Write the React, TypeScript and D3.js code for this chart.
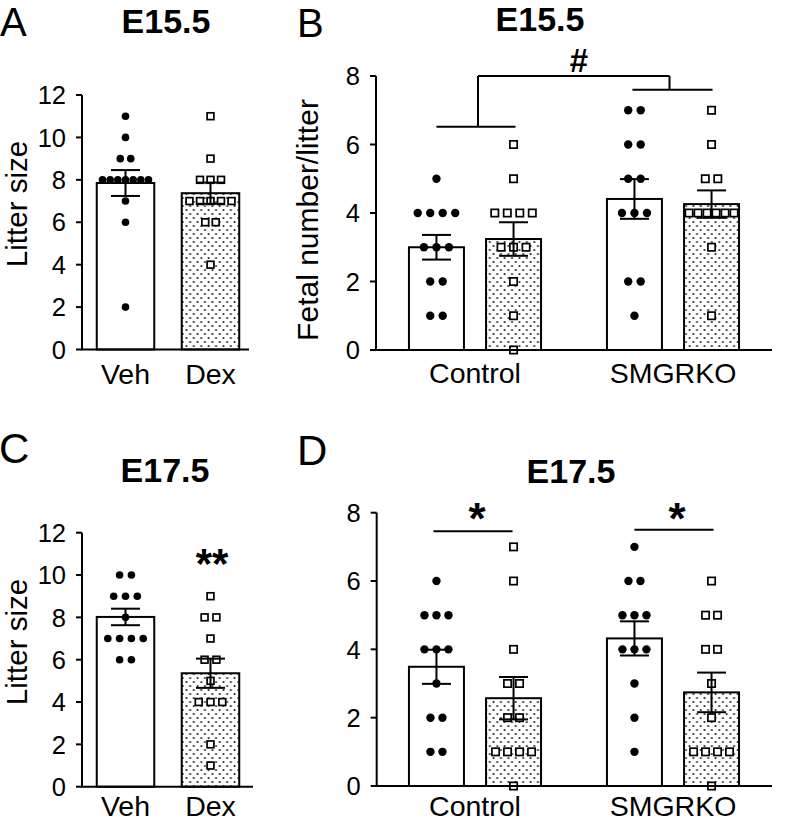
import React from 'react';
import * as d3 from 'd3';

// ---------- categories / ticks ----------
const treatments = ['Veh', 'Dex'];
const genotypes = ['Control', 'SMGRKO'];
const litterTicks = [0, 2, 4, 6, 8, 10, 12];
const fetalTicks = [0, 2, 4, 6, 8];

// ---------- Panel A (E15.5 litter size) ----------
const aVeh = [11, 10, 9, 9, 8, 8, 8, 8, 8, 8, 8, 7, 6, 2];
const aDex = [11, 9, 8, 8, 8, 7, 7, 7, 7, 7, 6, 6, 4];
const aMean = [7.85, 7.37];
const aSem = [0.61, 0.5];

// ---------- Panel B (E15.5 fetal number/litter) ----------
const bControlVeh = [5, 4, 4, 4, 4, 3, 3, 3, 2, 2, 1, 1];
const bControlDex = [6, 5, 4, 4, 4, 4, 3, 3, 3, 2, 1, 0];
const bSmgrkoVeh = [7, 7, 6, 6, 5, 5, 4, 4, 4, 2, 2, 1];
const bSmgrkoDex = [7, 6, 5, 5, 4, 4, 4, 4, 4, 4, 3, 1];
const bMean = [3.0, 3.24, 4.41, 4.26];
const bSem = [0.36, 0.49, 0.58, 0.4];

// ---------- Panel C (E17.5 litter size) ----------
const cVeh = [10, 10, 9, 9, 9, 8, 7, 7, 7, 7, 6, 6];
const cDex = [9, 8, 8, 7, 6, 6, 5, 4, 4, 4, 2, 1];
const cMean = [8.02, 5.36];
const cSem = [0.39, 0.69];

// ---------- Panel D (E17.5 fetal number/litter) ----------
const dControlVeh = [6, 5, 5, 5, 4, 4, 4, 3, 2, 2, 1, 1];
const dControlDex = [7, 6, 4, 3, 3, 2, 2, 1, 1, 1, 1, 0];
const dSmgrkoVeh = [7, 6, 6, 5, 5, 5, 4, 4, 4, 3, 2, 1];
const dSmgrkoDex = [6, 5, 5, 4, 4, 3, 2, 1, 1, 1, 1, 0];
const dMean = [3.49, 2.57, 4.32, 2.74];
const dSem = [0.5, 0.62, 0.5, 0.58];

const FONT = "'Liberation Sans', Arial, Helvetica, sans-serif";

type Bar = { x0: number; w: number; mean: number; sem: number; values: number[]; kind: string };

function layoutPoints(values: number[], cx: number, base: number, maxW: number) {
  const groups = d3.groups(values, (v) => v);
  const out: { x: number; v: number }[] = [];
  groups.forEach(([v, arr]) => {
    const k = arr.length;
    const s = k > 1 ? Math.min(base, maxW / (k - 1)) : 0;
    arr.forEach((_, i) => out.push({ x: cx + (i - (k - 1) / 2) * s, v }));
  });
  return out;
}

function Panel(props: {
  y: d3.ScaleLinear<number, number>;
  ticks: number[];
  axisX: number;
  axisEnd: number;
  bars: Bar[];
  r: number;
  sq: number;
  base: number;
  maxW: number;
  labels: { text: string; x: number }[];
  labelY: number;
}) {
  const { y, ticks, axisX, axisEnd, bars, r, sq, base, maxW, labels, labelY } = props;
  const y0 = y(0);
  const yTop = y(ticks[ticks.length - 1]);
  return (
    <g>
      {bars.map((b, i) => (
        <rect
          key={'b' + i}
          x={b.x0}
          y={y(b.mean)}
          width={b.w}
          height={y0 - y(b.mean)}
          fill={b.kind === 'Dex' ? 'url(#dots)' : '#fff'}
          stroke="#000"
          strokeWidth={2}
        />
      ))}
      {bars.map((b, i) =>
        layoutPoints(b.values, b.x0 + b.w / 2, base, maxW).map((p, j) =>
          b.kind === 'Dex' ? (
            <rect
              key={'p' + i + '-' + j}
              x={p.x - sq / 2}
              y={y(p.v) - sq / 2}
              width={sq}
              height={sq}
              fill="#fff"
              stroke="#000"
              strokeWidth={1.7}
            />
          ) : (
            <circle key={'p' + i + '-' + j} cx={p.x} cy={y(p.v)} r={r} fill="#000" />
          )
        )
      )}
      {bars.map((b, i) => {
        const cx = b.x0 + b.w / 2;
        const hi = y(b.mean + b.sem);
        const lo = y(b.mean - b.sem);
        return (
          <g key={'e' + i} stroke="#000" strokeWidth={2}>
            <line x1={cx} x2={cx} y1={hi} y2={lo} />
            <line x1={cx - 14.5} x2={cx + 14.5} y1={hi} y2={hi} />
            <line x1={cx - 14.5} x2={cx + 14.5} y1={lo} y2={lo} />
          </g>
        );
      })}
      <line x1={axisX} x2={axisX} y1={yTop} y2={y0} stroke="#000" strokeWidth={2} />
      <line x1={axisX - 1} x2={axisEnd} y1={y0} y2={y0} stroke="#000" strokeWidth={2} />
      {ticks.map((t) => (
        <g key={'t' + t}>
          <line x1={axisX - 6} x2={axisX} y1={y(t)} y2={y(t)} stroke="#000" strokeWidth={2} />
          <text x={axisX - 16} y={y(t)} dy="0.36em" textAnchor="end" fontSize={25.5} fontFamily={FONT}>
            {t}
          </text>
        </g>
      ))}
      {labels.map((l) => (
        <text key={l.text} x={l.x} y={labelY} textAnchor="middle" fontSize={28.5} fontFamily={FONT}>
          {l.text}
        </text>
      ))}
    </g>
  );
}

export default function App() {
  // scales for two-bar panels (A, C)
  const xAC = d3.scaleBand().domain(treatments).range([83, 253]).paddingInner(0.3235).paddingOuter(0.16175);
  // scales for grouped panels (B, D)
  const xGroup = d3.scaleBand().domain(genotypes).range([376, 772]).paddingInner(0).paddingOuter(0);
  const xTreat = d3
    .scaleBand()
    .domain(treatments)
    .range([0, xGroup.bandwidth()])
    .paddingInner(0.2866)
    .paddingOuter(0.4275);

  const yA = d3.scaleLinear().domain([0, 12]).range([349.5, 95]);
  const yB = d3.scaleLinear().domain([0, 8]).range([350, 76]);
  const yC = d3.scaleLinear().domain([0, 12]).range([786.7, 532.7]);
  const yD = d3.scaleLinear().domain([0, 8]).range([786, 512.7]);

  const twoBars = (vals: number[][], means: number[], sems: number[]): Bar[] =>
    treatments.map((t, i) => ({
      x0: xAC(t) as number,
      w: xAC.bandwidth(),
      mean: means[i],
      sem: sems[i],
      values: vals[i],
      kind: t,
    }));

  const fourBars = (vals: number[][], means: number[], sems: number[]): Bar[] => {
    const out: Bar[] = [];
    genotypes.forEach((g, gi) =>
      treatments.forEach((t, ti) => {
        const k = gi * 2 + ti;
        out.push({
          x0: (xGroup(g) as number) + (xTreat(t) as number),
          w: xTreat.bandwidth(),
          mean: means[k],
          sem: sems[k],
          values: vals[k],
          kind: t,
        });
      })
    );
    return out;
  };

  const barsA = twoBars([aVeh, aDex], aMean, aSem);
  const barsC = twoBars([cVeh, cDex], cMean, cSem);
  const barsB = fourBars([bControlVeh, bControlDex, bSmgrkoVeh, bSmgrkoDex], bMean, bSem);
  const barsD = fourBars([dControlVeh, dControlDex, dSmgrkoVeh, dSmgrkoDex], dMean, dSem);

  const acLabels = treatments.map((t) => ({ text: t, x: (xAC(t) as number) + xAC.bandwidth() / 2 }));
  const bdLabels = genotypes.map((g) => ({ text: g, x: (xGroup(g) as number) + xGroup.bandwidth() / 2 }));

  const cen = (b: Bar) => b.x0 + b.w / 2;
  const gMid = (g: string) => (xGroup(g) as number) + xGroup.bandwidth() / 2;

  return (
    <svg
      width={793}
      height={823}
      style={{ position: 'absolute', left: 0, top: 0, background: '#fff' }}
      fontFamily={FONT}
    >
      <defs>
        <pattern id="dots" width={7.4} height={8} patternUnits="userSpaceOnUse">
          <rect width={7.4} height={8} fill="#fff" />
          <rect x={0.6} y={1.2} width={1.7} height={1.7} fill="#111" />
          <rect x={4.3} y={5.2} width={1.7} height={1.7} fill="#111" />
        </pattern>
      </defs>

      {/* Panel letters */}
      <text x={0} y={36} fontSize={40}>A</text>
      <text x={297} y={37} fontSize={40}>B</text>
      <text x={-1} y={463} fontSize={42}>C</text>
      <text x={297} y={465} fontSize={42}>D</text>

      {/* Titles */}
      <text x={166} y={33} fontSize={34} fontWeight="bold" textAnchor="middle">E15.5</text>
      <text x={540} y={31} fontSize={34} fontWeight="bold" textAnchor="middle">E15.5</text>
      <text x={165} y={482} fontSize={34} fontWeight="bold" textAnchor="middle">E17.5</text>
      <text x={571} y={483} fontSize={34} fontWeight="bold" textAnchor="middle">E17.5</text>

      {/* Y axis labels */}
      <text transform="translate(27,204) rotate(-90)" fontSize={29.5} textAnchor="middle">Litter size</text>
      <text transform="translate(318,220) rotate(-90)" fontSize={30} textAnchor="middle">Fetal number/litter</text>
      <text transform="translate(27,642) rotate(-90)" fontSize={29.5} textAnchor="middle">Litter size</text>

      <Panel y={yA} ticks={litterTicks} axisX={82} axisEnd={249} bars={barsA} r={3.8} sq={6.8} base={10.5} maxW={46} labels={acLabels} labelY={384} />
      <Panel y={yB} ticks={fetalTicks} axisX={376} axisEnd={772} bars={barsB} r={4.2} sq={7.3} base={12.5} maxW={45} labels={bdLabels} labelY={383} />
      <Panel y={yC} ticks={litterTicks} axisX={82} axisEnd={253} bars={barsC} r={3.8} sq={6.8} base={11.8} maxW={46} labels={acLabels} labelY={816} />
      <Panel y={yD} ticks={fetalTicks} axisX={376.7} axisEnd={772} bars={barsD} r={4.2} sq={7.3} base={12} maxW={45} labels={bdLabels} labelY={816} />

      {/* Panel B bracket (#) */}
      <g stroke="#000" strokeWidth={2} fill="none">
        <line x1={gMid('Control') + 3} x2={gMid('SMGRKO') - 3.5} y1={yB(8)} y2={yB(8)} />
        <line x1={gMid('Control') + 3} x2={gMid('Control') + 3} y1={yB(8)} y2={yB(6.52)} />
        <line x1={cen(barsB[0])} x2={cen(barsB[1]) + 2} y1={yB(6.52)} y2={yB(6.52)} />
        <line x1={gMid('SMGRKO') - 3.5} x2={gMid('SMGRKO') - 3.5} y1={yB(8)} y2={yB(7.6)} />
        <line x1={cen(barsB[2]) - 2} x2={cen(barsB[3]) + 1} y1={yB(7.6)} y2={yB(7.6)} />
      </g>
      <text x={579} y={72} fontSize={33} fontWeight="bold" textAnchor="middle">#</text>

      {/* Panel C significance */}
      <text x={212} y={578} fontSize={42} fontWeight="bold" textAnchor="middle">**</text>

      {/* Panel D significance */}
      <g stroke="#000" strokeWidth={2}>
        <line x1={cen(barsD[0]) - 3} x2={cen(barsD[1]) - 1} y1={yD(7.46)} y2={yD(7.46)} />
        <line x1={cen(barsD[2])} x2={cen(barsD[3]) + 2} y1={yD(7.5)} y2={yD(7.5)} />
      </g>
      <text x={gMid('Control') + 2} y={534} fontSize={44} fontWeight="bold" textAnchor="middle">*</text>
      <text x={gMid('SMGRKO') + 4} y={534} fontSize={44} fontWeight="bold" textAnchor="middle">*</text>
    </svg>
  );
}
